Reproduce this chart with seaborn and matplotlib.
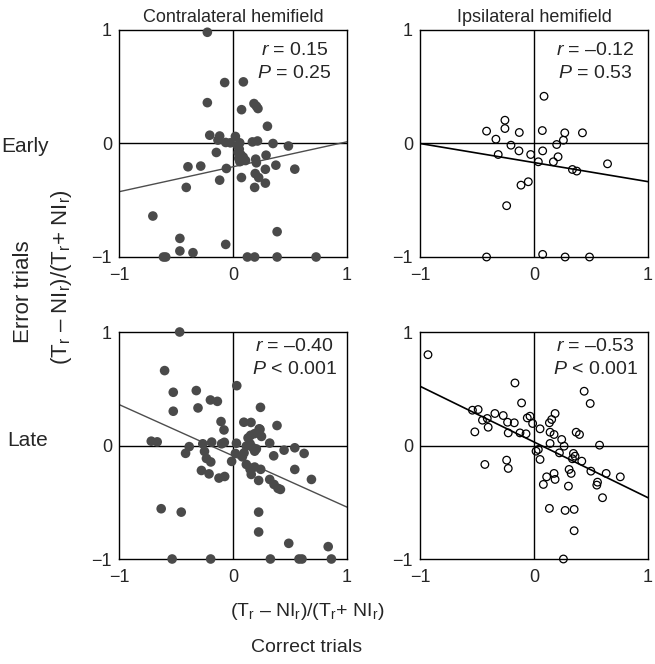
import numpy as np
import matplotlib
matplotlib.use('Agg')
import matplotlib.pyplot as plt
import seaborn as sns

# Early, contralateral hemifield (filled dots)
early_contra_x = [-0.225, -0.073, 0.091, -0.225, 0.184, 0.205, 0.219, 0.075, 0.302, -0.204,
                  -0.117, -0.132, -0.064, -0.023, 0.021, 0.059, 0.170, 0.215, 0.351, 0.486,
                  -0.146, 0.040, 0.055, 0.045, 0.070, 0.050, 0.090, 0.060, 0.110, 0.290,
                  0.199, 0.205, 0.376, 0.284, 0.542, -0.395, -0.283, -0.058, 0.074, 0.195,
                  0.225, -0.117, 0.284, 0.190, -0.410, -0.703, 0.387, -0.466, -0.064, -0.466,
                  -0.351, -0.610, -0.590, 0.126, 0.190, 0.387, 0.729]
early_contra_y = [0.980, 0.537, 0.543, 0.360, 0.352, 0.329, 0.308, 0.298, 0.152, 0.073,
                  0.066, 0.030, 0.009, 0.006, 0.062, 0.006, 0.014, 0.022, 0.000, -0.022,
                  -0.079, -0.020, -0.050, -0.080, -0.100, -0.130, -0.120, -0.160, -0.150, -0.103,
                  -0.138, -0.170, -0.191, -0.227, -0.226, -0.205, -0.199, -0.220, -0.300, -0.265,
                  -0.300, -0.323, -0.349, -0.387, -0.387, -0.639, -0.777, -0.836, -0.889, -0.947,
                  -0.962, -1.0, -1.0, -1.0, -1.0, -1.0, -1.0]

# Early, ipsilateral hemifield (open circles)
early_ipsi_x = [0.088, -0.255, -0.255, -0.416, -0.129, 0.073, 0.270, 0.425, -0.334, 0.258,
                0.199, -0.202, -0.132, 0.076, -0.314, -0.029, 0.211, 0.038, 0.170, 0.645,
                0.337, 0.375, -0.050, -0.114, -0.240, -0.416, 0.076, 0.273, 0.487]
early_ipsi_y = [0.416, 0.205, 0.132, 0.109, 0.097, 0.114, 0.094, 0.094, 0.038, 0.029,
                -0.009, -0.015, -0.065, -0.065, -0.097, -0.097, -0.117, -0.161, -0.161, -0.179,
                -0.229, -0.243, -0.337, -0.367, -0.548, -1.0, -0.977, -1.0, -1.0]

# Late, contralateral hemifield (filled dots)
late_contra_x = [-0.468, -0.600, -0.524, -0.322, -0.524, -0.307, -0.198, -0.137, 0.033, 0.241,
                 -0.105, -0.079, 0.095, 0.158, 0.386, 0.237, -0.717, -0.665, -0.384, -0.416,
                 -0.265, -0.187, -0.250, -0.233, -0.195, -0.100, -0.076, 0.030, 0.132, 0.155,
                 0.190, 0.230, 0.250, 0.117, 0.150, 0.175, 0.205, 0.190, 0.097, 0.082,
                 0.021, -0.012, 0.117, 0.150, 0.190, 0.160, 0.243, -0.277, -0.210, -0.123,
                 -0.073, 0.225, 0.322, 0.360, 0.395, 0.416, 0.542, 0.322, 0.448, 0.542,
                 0.624, 0.357, 0.688, -0.630, -0.454, 0.225, 0.225, 0.489, 0.835, -0.534,
                 -0.196, 0.328, 0.579, 0.605, 0.863]
late_contra_y = [1.0, 0.660, 0.469, 0.484, 0.302, 0.331, 0.401, 0.389, 0.527, 0.336,
                 0.211, 0.137, 0.205, 0.203, 0.176, 0.142, 0.038, 0.032, -0.010, -0.069,
                 0.015, 0.030, -0.052, -0.114, -0.145, 0.015, 0.028, 0.020, 0.067, 0.090,
                 0.105, 0.147, 0.080, -0.005, 0.015, -0.020, -0.030, -0.050, -0.065, -0.100,
                 -0.070, -0.140, -0.167, -0.210, -0.190, -0.255, -0.210, -0.220, -0.250, -0.287,
                 -0.273, -0.308, -0.299, -0.343, -0.378, -0.387, -0.211, 0.021, -0.041, -0.020,
                 -0.070, -0.091, -0.299, -0.557, -0.587, -0.587, -0.762, -0.862, -0.891, -1.0,
                 -1.0, -1.0, -1.0, -1.0, -1.0]

# Late, ipsilateral hemifield (open circles)
late_ipsi_x = [-0.930, -0.167, 0.440, 0.493, -0.109, -0.540, -0.490, -0.343, -0.270, -0.452,
               -0.410, -0.232, -0.173, -0.519, -0.402, -0.226, -0.123, -0.070, -0.059, -0.035,
               -0.012, 0.053, 0.185, 0.135, 0.155, 0.141, 0.176, 0.370, 0.399, 0.243,
               0.264, 0.141, 0.575, 0.018, 0.038, 0.053, 0.223, 0.346, 0.360, 0.337,
               0.419, 0.308, 0.326, 0.499, 0.633, 0.757, 0.557, 0.551, 0.601, 0.176,
               0.111, 0.185, 0.082, 0.302, -0.431, -0.240, -0.226, 0.135, 0.273, 0.352,
               0.352, 0.258]
late_ipsi_y = [0.800, 0.551, 0.478, 0.370, 0.375, 0.311, 0.317, 0.282, 0.264, 0.223,
               0.238, 0.205, 0.200, 0.120, 0.161, 0.111, 0.111, 0.103, 0.243, 0.258,
               0.194, 0.147, 0.282, 0.200, 0.229, 0.117, 0.097, 0.117, 0.097, 0.053,
               -0.006, 0.018, 0.003, -0.050, -0.035, -0.123, -0.065, -0.070, -0.094, -0.117,
               -0.138, -0.211, -0.246, -0.226, -0.246, -0.276, -0.323, -0.349, -0.460, -0.246,
               -0.276, -0.299, -0.343, -0.358, -0.167, -0.129, -0.202, -0.554, -0.572, -0.563,
               -0.751, -1.0]

# regression lines
fit_intercept = [-0.205, -0.168, -0.091, 0.031]
fit_slope = [0.22, -0.168, -0.452, -0.491]
r_text = ['0.15', '\u20130.12', '\u20130.40', '\u20130.53']
p_text = ['= 0.25', '= 0.53', '< 0.001', '< 0.001']

col_titles = ['Contralateral hemifield', 'Ipsilateral hemifield']
row_titles = ['Early', 'Late']
tick_vals = [-1, 0, 1]
tick_labels = ['\u22121', '0', '1']

sns.set_style('white')
plt.rcParams['font.family'] = ['Liberation Sans', 'DejaVu Sans']
plt.rcParams['mathtext.fontset'] = 'custom'
plt.rcParams['mathtext.rm'] = 'Liberation Sans'
plt.rcParams['mathtext.it'] = 'Liberation Sans:italic'
plt.rcParams['mathtext.default'] = 'regular'

fig = plt.figure(figsize=(6.55, 6.64), dpi=100, facecolor='w')
W, H = 655., 664.
boxes = [(119, 30), (420, 30), (119, 332), (420, 332)]
data = [(early_contra_x, early_contra_y), (early_ipsi_x, early_ipsi_y),
        (late_contra_x, late_contra_y), (late_ipsi_x, late_ipsi_y)]

for i, ((px, py), (xs, ys)) in enumerate(zip(boxes, data)):
    ax = fig.add_axes([px / W, 1 - (py + 227) / H, 228 / W, 227 / H])
    filled = (i % 2 == 0)
    ax.axhline(0, color='k', lw=1.0, zorder=1)
    ax.axvline(0, color='k', lw=1.0, zorder=1)
    lx = np.array([-1, 1])
    sns.lineplot(x=lx, y=fit_intercept[i] + fit_slope[i] * lx, ax=ax,
                 color='#4d4d4d' if filled else 'k', lw=1.0 if filled else 1.2, zorder=2)
    if filled:
        sns.scatterplot(x=xs, y=ys, ax=ax, s=48, color='#4a4a4a', edgecolor='none',
                        zorder=3, clip_on=False)
    else:
        sns.scatterplot(x=xs, y=ys, ax=ax, s=30, facecolor='none', edgecolor='k',
                        linewidth=0.9, zorder=3, clip_on=False)
    ax.set_xlim(-1, 1)
    ax.set_ylim(-1, 1)
    ax.set_xticks(tick_vals)
    ax.set_yticks(tick_vals)
    ax.set_xticklabels(tick_labels)
    ax.set_yticklabels(tick_labels)
    ax.tick_params(length=0, labelsize=13)
    ax.tick_params(axis='x', pad=7)
    ax.tick_params(axis='y', pad=5)
    for sp in ax.spines.values():
        sp.set_visible(True)
        sp.set_color('k')
        sp.set_linewidth(1.0)
    ty = 0.91 if i < 2 else 0.935
    ax.text(0.77, ty, r'$\mathit{r}$ = ' + r_text[i], transform=ax.transAxes,
            ha='center', va='center', fontsize=14)
    ax.text(0.77, ty - 0.10, r'$\mathit{P}$ ' + p_text[i], transform=ax.transAxes,
            ha='center', va='center', fontsize=14)
    if i < 2:
        ax.set_title(col_titles[i], fontsize=13, pad=6)

fig.text(25 / W, 1 - 146 / H, row_titles[0], fontsize=15, ha='center', va='center')
fig.text(28 / W, 1 - 441 / H, row_titles[1], fontsize=15, ha='center', va='center')
fig.text(24 / W, 1 - 292 / H, 'Error trials', fontsize=16, rotation=90,
         ha='center', va='center')
fig.text(62 / W, 1 - 277 / H, '(T$_r$ \u2013 NI$_r$)/(T$_r$+ NI$_r$)', fontsize=16,
         rotation=90, ha='center', va='center')
fig.text(307 / W, 1 - 612 / H, '(T$_r$ \u2013 NI$_r$)/(T$_r$+ NI$_r$)', fontsize=14,
         ha='center', va='center')
fig.text(307 / W, 1 - 647 / H, 'Correct trials', fontsize=14, ha='center', va='center')

plt.savefig('out.png', dpi=100)
